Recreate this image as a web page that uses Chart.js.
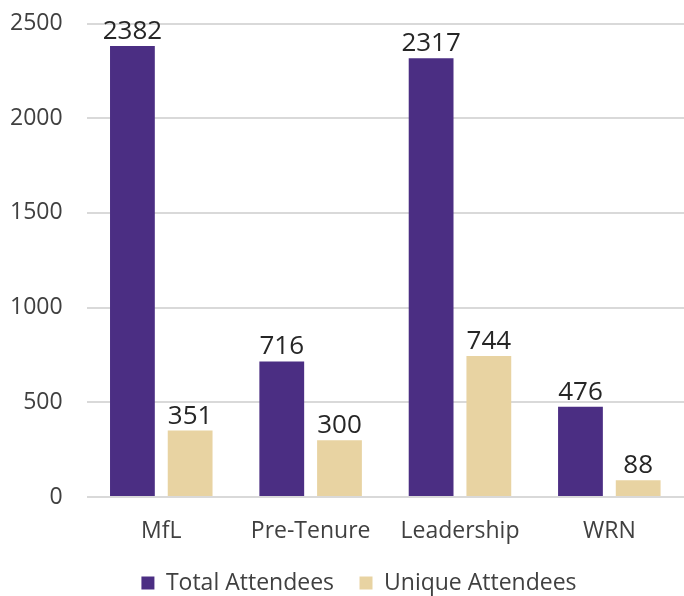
<!DOCTYPE html>
<html>
<head>
<meta charset="utf-8">
<script src="https://cdn.jsdelivr.net/npm/chart.js@4/dist/chart.umd.min.js"></script>
<style>
  html, body { margin: 0; padding: 0; background: #fff; }
  #wrap { width: 684px; height: 596px; position: relative; }
</style>
</head>
<body>
<div id="wrap"><canvas id="c"></canvas></div>
<script>
const categories = ["MfL", "Pre-Tenure", "Leadership", "WRN"];
const totalAttendees = [2382, 716, 2317, 476];
const uniqueAttendees = [351, 300, 744, 88];
const seriesNames = ["Total Attendees", "Unique Attendees"];
const yTicks = [0, 500, 1000, 1500, 2000, 2500];

const FONT = "'Open Sans', 'Noto Sans', sans-serif";

const valueLabels = {
  id: 'valueLabels',
  afterDatasetsDraw(chart) {
    const ctx = chart.ctx;
    ctx.save();
    ctx.font = "26px " + FONT;
    ctx.fillStyle = "#262626";
    ctx.textAlign = "center";
    ctx.textBaseline = "alphabetic";
    chart.data.datasets.forEach((ds, i) => {
      const meta = chart.getDatasetMeta(i);
      meta.data.forEach((bar, j) => {
        ctx.fillText(String(ds.data[j]), bar.x, bar.y - 7);
      });
    });
    ctx.restore();
  }
};

// shift the library-drawn legend a little to the right, as in the reference
const legendNudge = {
  id: 'legendNudge',
  afterLayout(chart) {
    const lg = chart.legend;
    if (!lg) return;
    lg.left += 14; lg.right += 14;
  }
};

new Chart(document.getElementById('c'), {
  type: 'bar',
  data: {
    labels: categories,
    datasets: [
      { label: seriesNames[0], data: totalAttendees, backgroundColor: '#4b2e83',
        categoryPercentage: 0.773, barPercentage: 0.776 },
      { label: seriesNames[1], data: uniqueAttendees, backgroundColor: '#e8d3a2',
        categoryPercentage: 0.773, barPercentage: 0.776 }
    ]
  },
  options: {
    responsive: true,
    maintainAspectRatio: false,
    animation: false,
    layout: { padding: { left: 6, right: 0, top: 0, bottom: 0 } },
    plugins: {
      legend: {
        position: 'bottom',
        maxHeight: 50,
        labels: {
          font: { family: FONT, size: 23 },
          color: '#404040',
          boxWidth: 13, boxHeight: 13,
          padding: 25.5
        }
      },
      tooltip: { enabled: false }
    },
    scales: {
      x: {
        grid: { display: false },
        border: { display: false },
        ticks: { font: { family: FONT, size: 23 }, color: '#404040', padding: 13 },
        afterFit(scale) { scale.height = 49; }
      },
      y: {
        min: 0, max: 2500,
        afterBuildTicks(axis) { axis.ticks = yTicks.map(v => ({ value: v })); },
        grid: { color: '#d9d9d9', lineWidth: 2, drawTicks: true, tickLength: 20, tickColor: 'rgba(0,0,0,0)' },
        border: { display: false },
        ticks: { font: { family: FONT, size: 23, lineHeight: 1.7 }, color: '#404040', padding: 4,
                 callback: v => String(v) }
      }
    }
  },
  plugins: [valueLabels, legendNudge]
});
</script>
</body>
</html>
